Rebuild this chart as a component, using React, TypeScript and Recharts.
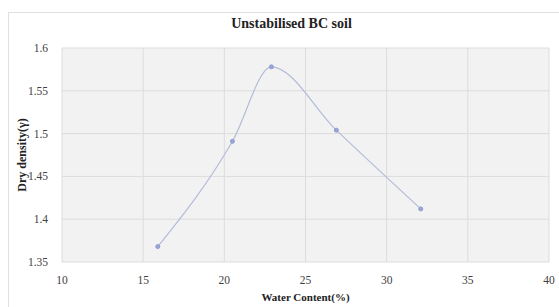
import { LineChart, Line, XAxis, YAxis, CartesianGrid, Label } from "recharts";

const waterContent = [15.9, 20.5, 22.9, 26.9, 32.1];
const dryDensity = [1.368, 1.491, 1.578, 1.504, 1.412];
const xTicks = [10, 15, 20, 25, 30, 35, 40];
const yTicks = [1.35, 1.4, 1.45, 1.5, 1.55, 1.6];

const data = waterContent.map((x, i) => ({ x, y: dryDensity[i] }));

const serif = "'Liberation Serif', 'Times New Roman', serif";

export default function App() {
  return (
    <div style={{ position: "relative", width: 559, height: 307, background: "#fff" }}>
      <style>{`body{margin:0}`}</style>
      <div
        style={{
          position: "absolute",
          left: 8,
          top: 12,
          width: 551,
          height: 295,
          border: "1px solid #e0e0e0",
          borderRight: "none",
          borderBottom: "none",
          boxSizing: "border-box",
        }}
      />
      <div
        style={{
          position: "absolute",
          top: 16,
          left: 12,
          width: 559,
          textAlign: "center",
          fontFamily: serif,
          fontWeight: "bold",
          fontSize: 14,
          color: "#222",
        }}
      >
        Unstabilised BC soil
      </div>
      <LineChart
        width={559}
        height={307}
        data={data}
        margin={{ top: 48, right: 10, left: 0, bottom: 20 }}
        style={{ position: "absolute", left: 0, top: 0 }}
      >
        <CartesianGrid stroke="#dcdcdc" fill="#f2f2f2" />
        <XAxis
          type="number"
          dataKey="x"
          domain={[10, 40]}
          ticks={xTicks}
          axisLine={false}
          tickLine={false}
          height={25}
          tickMargin={8}
          tick={{ fontSize: 11.5, fill: "#404040", fontFamily: serif }}
        >
          <Label
            value="Water Content(%)"
            position="insideBottom"
            offset={-14}
            style={{ fontSize: 11, fontWeight: "bold", fill: "#222", fontFamily: serif }}
          />
        </XAxis>
        <YAxis
          type="number"
          domain={[1.35, 1.6]}
          ticks={yTicks}
          axisLine={false}
          tickLine={false}
          width={62}
          tickMargin={8}
          tick={{ fontSize: 11.5, fill: "#404040", fontFamily: serif }}
        >
          <Label
            value="Dry density(γ)"
            angle={-90}
            position="insideLeft"
            offset={22}
            style={{ textAnchor: "middle", fontSize: 12, fontWeight: "bold", fill: "#222", fontFamily: serif }}
          />
        </YAxis>
        <Line
          type="monotone"
          dataKey="y"
          stroke="#b4bcd8"
          strokeWidth={1.2}
          dot={{ r: 2, fill: "#9aa6d6", stroke: "#8f9bd0", strokeWidth: 1 }}
          isAnimationActive={false}
        />
      </LineChart>
    </div>
  );
}
